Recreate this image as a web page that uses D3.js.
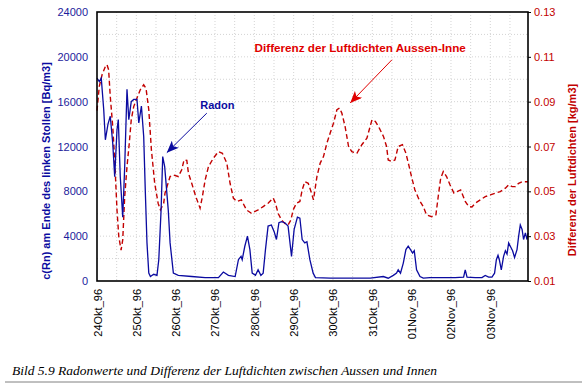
<!DOCTYPE html>
<html lang="de">
<head>
    <meta charset="UTF-8">
    <script src="https://d3js.org/d3.v7.min.js"></script>
    <style>
        body {margin: 0; background-color: #ffffff}
        svg {display: block; font-family: "Liberation Sans", Arial, sans-serif;}
    </style>
</head>
<body>
<svg class="chart"></svg>
<script type="text/javascript">
    // x values are hours after 24 Okt 96, 00:00
    let dayLabels = ['24Okt_96', '25Okt_96', '26Okt_96', '27Okt_96', '28Okt_96', '29Okt_96',
        '30Okt_96', '31Okt_96', '01Nov_96', '02Nov_96', '03Nov_96'];
    let radonTicks = [0, 4000, 8000, 12000, 16000, 20000, 24000];
    let luftTicks = [0.01, 0.03, 0.05, 0.07, 0.09, 0.11, 0.13];

    let radonHours = [0, 1.4, 2.6, 4.1, 5.1, 6.7, 8.1, 9.6, 10.8, 12.2, 13.0, 14.2, 15.7, 16.9, 18.3, 19.4,
        20.9, 22.4, 24.4, 25.5, 27.1, 28.5, 29.5, 30.5, 31.6, 32.6, 34.6, 36.6, 37.7, 39.1, 40.1, 41.3,
        43.5, 44.6, 46.6, 49.6, 57.8, 66.0, 74.1, 77.1, 80.2, 84.3, 86.3, 87.9, 88.6, 90.2, 91.8, 93.3,
        94.7, 96.7, 98.3, 100.0, 101.4, 102.8, 104.4, 106.4, 108.1, 109.5, 111.0, 112.6, 114.6, 116.6,
        118.7, 120.3, 122.3, 123.8, 125.2, 126.8, 128.1, 129.9, 131.9, 133.3, 142.3, 154.5, 166.7, 174.7,
        177.7, 180.8, 182.8, 183.8, 185.2, 186.9, 188.5, 189.9, 191.3, 192.6, 193.6, 195.0, 197.1, 199.1,
        203.2, 212.5, 218.6, 223.7, 224.7, 225.8, 230.8, 234.9, 236.9, 239.0, 241.0, 242.6, 243.7, 244.7,
        245.5, 246.7, 248.1, 249.2, 250.2, 251.2, 252.2, 253.6, 254.8, 256.3, 257.3, 258.3, 259.4, 260.3,
        261.4, 262.4, 263.0];
    let radonValues = [18100, 17800, 18100, 15300, 12600, 14000, 14700, 12300, 9300, 13500, 14400, 9300, 5700,
        10200, 17100, 14400, 16000, 16200, 16200, 14100, 15600, 12900, 7900, 3400, 700, 400, 600, 500, 1900,
        6300, 11100, 10200, 6300, 3400, 700, 500, 400, 300, 300, 800, 500, 400, 1900, 2200, 1900, 3100, 4000,
        2800, 700, 500, 1000, 500, 700, 2800, 4900, 5000, 4400, 3700, 5200, 5300, 5200, 4900, 2200, 4600,
        5700, 5600, 3700, 3400, 3500, 1900, 700, 300, 250, 250, 250, 400, 250, 500, 700, 1000, 700, 1600,
        2800, 3100, 2800, 2500, 2700, 1000, 400, 250, 300, 300, 300, 350, 1000, 350, 300, 300, 500, 350,
        350, 700, 1900, 2300, 1900, 1000, 2200, 2700, 2400, 3400, 3100, 2700, 2100, 2800, 4000, 5000, 4600,
        3700, 4300, 3700, 4300];

    let luftHours = [0, 1.4, 3.1, 5.1, 6.1, 7.1, 8.1, 9.6, 10.8, 12.2, 13.3, 14.7, 15.7, 16.9, 18.3, 19.7,
        20.9, 22.4, 24.4, 26.4, 28.5, 29.9, 31.6, 33.2, 35.2, 37.3, 38.7, 40.7, 41.5, 44.6, 46.6, 49.6,
        51.7, 53.1, 54.8, 55.8, 57.8, 60.3, 62.9, 64.3, 66.0, 68.0, 71.0, 74.1, 76.5, 79.2, 81.2, 83.2,
        85.3, 88.1, 91.2, 94.2, 98.3, 101.4, 104.4, 107.5, 108.9, 110.5, 112.6, 114.6, 116.6, 118.3, 119.7,
        121.7, 123.8, 125.2, 126.8, 128.9, 130.9, 132.1, 134.2, 136.2, 138.2, 140.3, 142.3, 144.3, 146.4,
        148.0, 149.4, 151.4, 153.5, 155.5, 158.6, 161.6, 164.7, 167.8, 169.8, 171.8, 174.8, 176.7, 177.7,
        179.7, 181.8, 183.8, 186.4, 188.5, 190.5, 191.9, 194.0, 196.6, 199.1, 201.1, 204.2, 206.8, 208.2,
        209.7, 211.3, 213.3, 215.4, 217.8, 219.8, 221.9, 224.7, 226.8, 228.8, 230.8, 233.9, 236.9, 240.0,
        243.1, 246.1, 249.2, 251.2, 253.3, 255.3, 257.3, 259.4, 263.0];
    let luftValues = [0.086, 0.0968, 0.102, 0.1057, 0.1065, 0.1042, 0.0923, 0.0789, 0.064, 0.0417, 0.0298,
        0.0238, 0.0283, 0.0476, 0.061, 0.0715, 0.0819, 0.0878, 0.0916, 0.0953, 0.0975, 0.096, 0.0864, 0.0685,
        0.0536, 0.0447, 0.0417, 0.0447, 0.0492, 0.0566, 0.0573, 0.0566, 0.0596, 0.064, 0.0638, 0.0581, 0.0536,
        0.0476, 0.0425, 0.0476, 0.0551, 0.061, 0.0648, 0.0677, 0.067, 0.0626, 0.0536, 0.047, 0.0455, 0.0462,
        0.0417, 0.0402, 0.0417, 0.0432, 0.0447, 0.047, 0.0447, 0.0402, 0.0372, 0.0357, 0.035, 0.0372, 0.0417,
        0.0447, 0.0455, 0.0506, 0.0543, 0.0536, 0.0492, 0.0462, 0.0566, 0.0626, 0.0655, 0.0715, 0.076, 0.0804,
        0.0864, 0.0871, 0.0849, 0.0789, 0.07, 0.0677, 0.067, 0.0708, 0.0737, 0.0819, 0.0812, 0.0789, 0.0745,
        0.07, 0.064, 0.0633, 0.064, 0.07, 0.0708, 0.067, 0.061, 0.0566, 0.0506, 0.0462, 0.0432, 0.0395, 0.0387,
        0.0395, 0.0476, 0.0558, 0.0588, 0.0566, 0.0529, 0.0492, 0.0499, 0.0506, 0.0455, 0.0432, 0.043, 0.0447,
        0.0462, 0.0476, 0.0484, 0.0492, 0.0499, 0.0514, 0.0529, 0.0521, 0.0521, 0.0536, 0.0543, 0.0543];

    let chartWidth = 587, chartHeight = 388;
    let plotLeft = 97, plotRight = 528, plotTop = 12, plotBottom = 281;
    let blue = '#0b0ba0', red = '#c20000';

    let radon = radonHours.map((h, i) => ({h: h, v: radonValues[i]}));
    let luft = luftHours.map((h, i) => ({h: h, v: luftValues[i]}));

    let x = d3.scaleLinear().domain([0, 263]).range([plotLeft, plotRight]);
    let yL = d3.scaleLinear().domain([0, 24000]).range([plotBottom, plotTop]);
    let yR = d3.scaleLinear().domain([0.01, 0.13]).range([plotBottom, plotTop]);

    let svg = d3.select('.chart').attr('width', chartWidth).attr('height', chartHeight);

    let defs = svg.append('defs');
    [['arrowBlue', blue], ['arrowRed', '#e00000']].forEach(m => {
        defs.append('marker').attr('id', m[0])
            .attr('viewBox', '0 0 12 10').attr('refX', 12).attr('refY', 5)
            .attr('markerWidth', 12).attr('markerHeight', 10)
            .attr('markerUnits', 'userSpaceOnUse').attr('orient', 'auto')
            .append('path').attr('d', 'M0,0 L12,5 L0,10 L3,5 Z').attr('fill', m[1]);
    });

    // dotted grid
    let grid = svg.append('g');
    grid.selectAll('.hg').data(d3.range(2000, 24000, 2000)).enter().append('line')
        .attr('x1', plotLeft).attr('x2', plotRight)
        .attr('y1', d => yL(d)).attr('y2', d => yL(d))
        .attr('stroke', '#d4d4d4').attr('stroke-dasharray', '1,2');
    grid.selectAll('.vg').data(d3.range(12, 263, 12)).enter().append('line')
        .attr('y1', plotTop).attr('y2', plotBottom)
        .attr('x1', d => x(d)).attr('x2', d => x(d))
        .attr('stroke', '#d4d4d4').attr('stroke-dasharray', '1,2');

    // series
    svg.append('path').datum(luft)
        .attr('d', d3.line().x(d => x(d.h)).y(d => yR(d.v)))
        .attr('fill', 'none').attr('stroke', red).attr('stroke-width', 1.4)
        .attr('stroke-dasharray', '5,3');
    svg.append('path').datum(radon)
        .attr('d', d3.line().x(d => x(d.h)).y(d => yL(d.v)))
        .attr('fill', 'none').attr('stroke', blue).attr('stroke-width', 1.3);

    // frame
    svg.append('rect').attr('x', plotLeft).attr('y', plotTop)
        .attr('width', plotRight - plotLeft).attr('height', plotBottom - plotTop)
        .attr('fill', 'none').attr('stroke', '#000').attr('stroke-width', 1.6);

    // axes
    let axL = svg.append('g').attr('transform', 'translate(' + plotLeft + ',0)')
        .call(d3.axisLeft(yL).tickValues(radonTicks).tickSize(0).tickPadding(9).tickFormat(d3.format('d')));
    axL.select('.domain').remove();
    axL.selectAll('text').attr('fill', '#1c1c9c').style('font-size', '11px');

    let axR = svg.append('g').attr('transform', 'translate(' + plotRight + ',0)')
        .call(d3.axisRight(yR).tickValues(luftTicks).tickSize(3).tickPadding(3).tickFormat(d3.format('.2f')));
    axR.select('.domain').remove();
    axR.selectAll('line').attr('stroke', '#000');
    axR.selectAll('text').attr('fill', red).style('font-size', '11px');

    let axB = svg.append('g').attr('transform', 'translate(0,' + plotBottom + ')')
        .call(d3.axisBottom(x).tickValues(d3.range(0, 241, 24)).tickSize(0)
            .tickFormat((d, i) => dayLabels[i]));
    axB.select('.domain').remove();
    axB.selectAll('text')
        .attr('transform', 'rotate(-90)')
        .attr('text-anchor', 'end')
        .attr('x', -8).attr('y', 4).attr('dy', 0)
        .attr('fill', '#000').style('font-size', '11px');

    // axis titles
    svg.append('text')
        .attr('transform', 'translate(50,171) rotate(-90)')
        .attr('text-anchor', 'middle')
        .attr('fill', blue).style('font-size', '11px').style('font-weight', 'bold')
        .text('c(Rn) am Ende des linken Stollen [Bq/m3]');
    svg.append('text')
        .attr('transform', 'translate(576,170) rotate(-90)')
        .attr('text-anchor', 'middle')
        .attr('fill', red).style('font-size', '11px').style('font-weight', 'bold')
        .text('Differenz der Luftdichten [kg/m3]');

    // annotations
    svg.append('text')
        .attr('x', x(63)).attr('y', yL(15360))
        .attr('fill', blue).style('font-size', '11px').style('font-weight', 'bold')
        .text('Radon');
    svg.append('line')
        .attr('x1', x(67)).attr('y1', yL(14975))
        .attr('x2', x(42.6)).attr('y2', yL(11450))
        .attr('stroke', blue).attr('stroke-width', 1)
        .attr('marker-end', 'url(#arrowBlue)');

    svg.append('text')
        .attr('x', x(160.6)).attr('y', yR(0.1123))
        .attr('text-anchor', 'middle')
        .attr('fill', '#e00000').style('font-size', '11.7px').style('font-weight', 'bold')
        .text('Differenz der Luftdichten Aussen-Inne');
    svg.append('line')
        .attr('x1', x(180)).attr('y1', yR(0.1087))
        .attr('x2', x(154.5)).attr('y2', yR(0.0894))
        .attr('stroke', '#e00000').attr('stroke-width', 1)
        .attr('marker-end', 'url(#arrowRed)');

    // caption
    svg.append('text')
        .attr('x', 12).attr('y', 375)
        .attr('textLength', 425).attr('lengthAdjust', 'spacingAndGlyphs')
        .style('font-family', '"Liberation Serif", "DejaVu Serif", serif')
        .style('font-style', 'italic').style('font-size', '13px').attr('fill', '#000')
        .text('Bild 5.9 Radonwerte und Differenz der  Luftdichten zwischen Aussen und Innen');
    svg.append('line')
        .attr('x1', 5).attr('x2', 582).attr('y1', 382).attr('y2', 382)
        .attr('stroke', '#808080').attr('stroke-width', 1);
</script>
</body>
</html>
